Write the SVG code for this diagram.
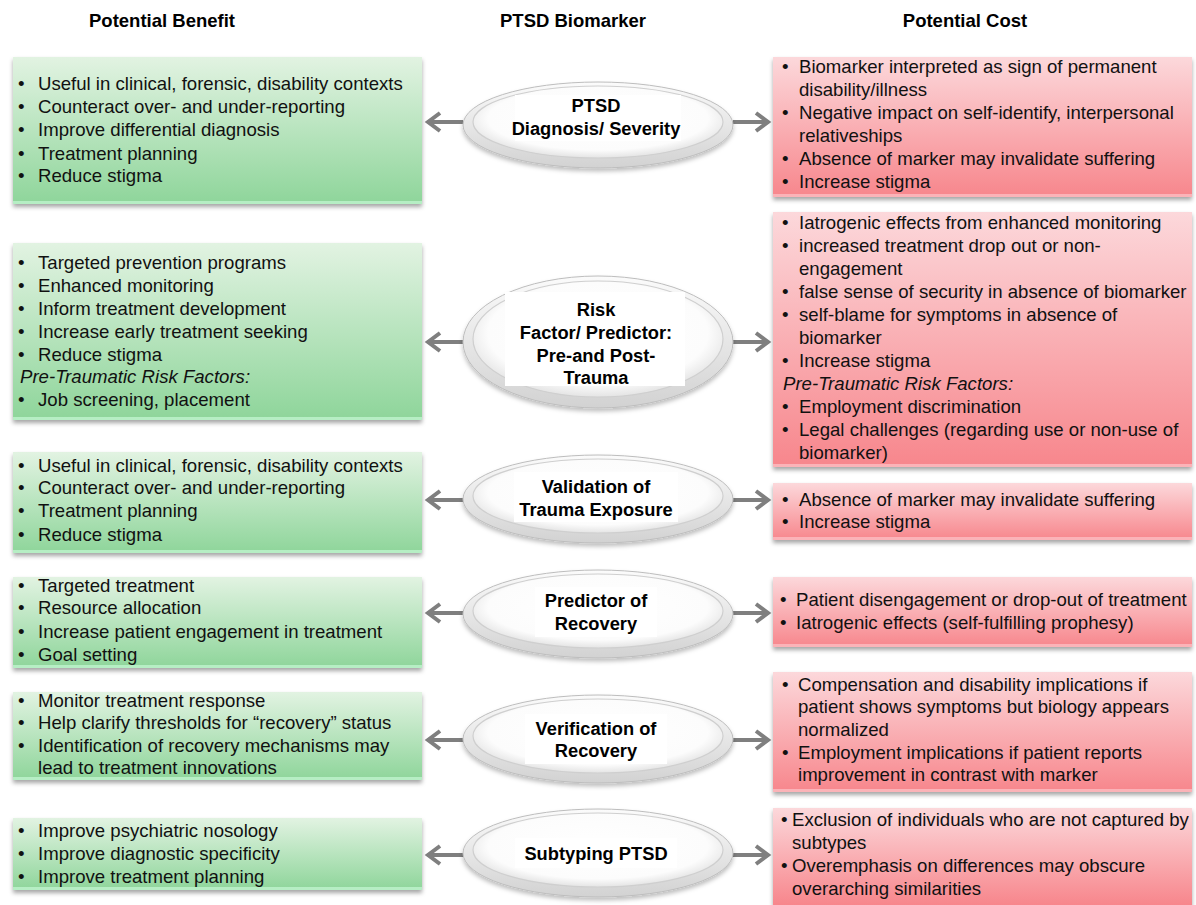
<svg xmlns="http://www.w3.org/2000/svg" width="1196" height="905" viewBox="0 0 1196 905">
<defs>
<linearGradient id="gGreen" x1="0" y1="0" x2="0" y2="1">
<stop offset="0" stop-color="#e2f3e2"/>
<stop offset="1" stop-color="#8ed59a"/>
</linearGradient>
<linearGradient id="gRed" x1="0" y1="0" x2="0" y2="1">
<stop offset="0" stop-color="#fcd8db"/>
<stop offset="1" stop-color="#f7868c"/>
</linearGradient>
<linearGradient id="gRing" x1="0" y1="0" x2="0" y2="1">
<stop offset="0" stop-color="#fbfbfb"/>
<stop offset="1" stop-color="#d2d2d2"/>
</linearGradient>
<radialGradient id="gInner" cx="0.5" cy="0.45" r="0.55">
<stop offset="0" stop-color="#ffffff"/>
<stop offset="0.8" stop-color="#fcfcfc"/>
<stop offset="1" stop-color="#e4e4e4"/>
</radialGradient>
<filter id="shadow" x="-5%" y="-10%" width="110%" height="130%">
<feDropShadow dx="0" dy="3" stdDeviation="2" flood-color="#000" flood-opacity="0.35"/>
</filter>
<filter id="eshadow" x="-10%" y="-20%" width="120%" height="150%">
<feDropShadow dx="0" dy="3" stdDeviation="2" flood-color="#000" flood-opacity="0.25"/>
</filter>
<marker id="chev" markerUnits="userSpaceOnUse" markerWidth="20" markerHeight="24" viewBox="-2 -2 20 24" refX="13" refY="10" orient="auto">
<path d="M1,1 L13,10 L1,19" fill="none" stroke="#7f7f7f" stroke-width="4"/>
</marker>
<style>
.hdr{font-family:"Liberation Sans",Arial,sans-serif;font-weight:bold;font-size:18.5px;fill:#000;text-anchor:middle}
.t{font-family:"Liberation Sans",Arial,sans-serif;font-size:18.6px;fill:#111}
.it{font-style:italic}
.bx-g{fill:url(#gGreen);filter:url(#shadow)}
.bx-r{fill:url(#gRed);filter:url(#shadow)}
.strip-g{fill:#b6eec4}
.strip-r{fill:#fbb3b8}
.ring{fill:url(#gRing);stroke:#bdbdbd;stroke-width:1;filter:url(#eshadow)}
.inner{fill:url(#gInner);stroke:#cfcfcf;stroke-width:1.2}
.lbl{font-family:"Liberation Sans",Arial,sans-serif;font-weight:bold;font-size:18.3px;fill:#000;text-anchor:middle}
.wb{fill:#ffffff}
.arr{stroke:#7f7f7f;stroke-width:4;fill:none;marker-end:url(#chev)}
</style>
</defs>
<rect width="1196" height="905" fill="#ffffff"/>

<g id="headers">
<text class="hdr" x="162" y="27">Potential Benefit</text>
<text class="hdr" x="573" y="27">PTSD Biomarker</text>
<text class="hdr" x="965" y="27">Potential Cost</text>
</g>

<g id="connectors">
<line class="arr" x1="463" y1="122" x2="428" y2="122"/>
<line class="arr" x1="733" y1="122" x2="768" y2="122"/>
<line class="arr" x1="463" y1="342" x2="428" y2="342"/>
<line class="arr" x1="733" y1="342" x2="768" y2="342"/>
<line class="arr" x1="463" y1="500" x2="428" y2="500"/>
<line class="arr" x1="733" y1="500" x2="768" y2="500"/>
<line class="arr" x1="463" y1="613" x2="428" y2="613"/>
<line class="arr" x1="733" y1="613" x2="768" y2="613"/>
<line class="arr" x1="463" y1="740" x2="428" y2="740"/>
<line class="arr" x1="733" y1="740" x2="768" y2="740"/>
<line class="arr" x1="463" y1="855" x2="428" y2="855"/>
<line class="arr" x1="733" y1="855" x2="768" y2="855"/>
</g>

<!-- Row 1 -->
<g id="benefit-1">
<rect class="bx-g" x="13" y="57" width="409" height="147"/>
<rect class="strip-g" x="13" y="201" width="409" height="3"/>
<text class="t" x="18" y="90">•</text><text class="t" x="38" y="90">Useful in clinical, forensic, disability contexts</text>
<text class="t" x="18" y="113">•</text><text class="t" x="38" y="113">Counteract over- and under-reporting</text>
<text class="t" x="18" y="136">•</text><text class="t" x="38" y="136">Improve differential diagnosis</text>
<text class="t" x="18" y="160">•</text><text class="t" x="38" y="160">Treatment planning</text>
<text class="t" x="18" y="182">•</text><text class="t" x="38" y="182">Reduce stigma</text>
</g>
<g id="biomarker-1">
<ellipse class="ring" cx="598" cy="125" rx="135" ry="43"/>
<ellipse class="inner" cx="598" cy="122" rx="125" ry="36"/>
<rect class="wb" x="515" y="95" width="166" height="46"/>
<text class="lbl" x="596" y="112">PTSD</text>
<text class="lbl" x="596" y="135">Diagnosis/ Severity</text>
</g>
<g id="cost-1">
<rect class="bx-r" x="773" y="57" width="419" height="140"/>
<rect class="strip-r" x="773" y="194" width="419" height="3"/>
<text class="t" x="782" y="73">•</text><text class="t" x="799" y="73">Biomarker interpreted as sign of permanent</text>
<text class="t" x="799" y="96">disability/illness</text>
<text class="t" x="782" y="119">•</text><text class="t" x="799" y="119">Negative impact on self-identify, interpersonal</text>
<text class="t" x="799" y="142">relativeships</text>
<text class="t" x="782" y="165">•</text><text class="t" x="799" y="165">Absence of marker may invalidate suffering</text>
<text class="t" x="782" y="188">•</text><text class="t" x="799" y="188">Increase stigma</text>
</g>

<!-- Row 2 -->
<g id="benefit-2">
<rect class="bx-g" x="13" y="243" width="409" height="177"/>
<rect class="strip-g" x="13" y="417" width="409" height="3"/>
<text class="t" x="18" y="269">•</text><text class="t" x="38" y="269">Targeted prevention programs</text>
<text class="t" x="18" y="292">•</text><text class="t" x="38" y="292">Enhanced monitoring</text>
<text class="t" x="18" y="315">•</text><text class="t" x="38" y="315">Inform treatment development</text>
<text class="t" x="18" y="338">•</text><text class="t" x="38" y="338">Increase early treatment seeking</text>
<text class="t" x="18" y="361">•</text><text class="t" x="38" y="361">Reduce stigma</text>
<text class="t it" x="20" y="383">Pre-Traumatic Risk Factors:</text>
<text class="t" x="18" y="406">•</text><text class="t" x="38" y="406">Job screening, placement</text>
</g>
<g id="biomarker-2">
<ellipse class="ring" cx="598" cy="342" rx="135" ry="66"/>
<ellipse class="inner" cx="598" cy="339" rx="125" ry="58"/>
<rect class="wb" x="505" y="292" width="180" height="94"/>
<text class="lbl" x="596" y="316">Risk</text>
<text class="lbl" x="596" y="339">Factor/ Predictor:</text>
<text class="lbl" x="596" y="362">Pre-and Post-</text>
<text class="lbl" x="596" y="384">Trauma</text>
</g>
<g id="cost-2">
<rect class="bx-r" x="773" y="212" width="419" height="255"/>
<rect class="strip-r" x="773" y="464" width="419" height="3"/>
<text class="t" x="782" y="229">•</text><text class="t" x="799" y="229">Iatrogenic effects from enhanced monitoring</text>
<text class="t" x="782" y="252">•</text><text class="t" x="799" y="252">increased treatment drop out or non-</text>
<text class="t" x="799" y="275">engagement</text>
<text class="t" x="782" y="298">•</text><text class="t" x="799" y="298">false sense of security in absence of biomarker</text>
<text class="t" x="782" y="321">•</text><text class="t" x="799" y="321">self-blame for symptoms in absence of</text>
<text class="t" x="799" y="344">biomarker</text>
<text class="t" x="782" y="367">•</text><text class="t" x="799" y="367">Increase stigma</text>
<text class="t it" x="783" y="390">Pre-Traumatic Risk Factors:</text>
<text class="t" x="782" y="413">•</text><text class="t" x="799" y="413">Employment discrimination</text>
<text class="t" x="782" y="436">•</text><text class="t" x="799" y="436">Legal challenges (regarding use or non-use of</text>
<text class="t" x="799" y="459">biomarker)</text>
</g>

<!-- Row 3 -->
<g id="benefit-3">
<rect class="bx-g" x="13" y="452" width="409" height="101"/>
<rect class="strip-g" x="13" y="550" width="409" height="3"/>
<text class="t" x="18" y="472">•</text><text class="t" x="38" y="472">Useful in clinical, forensic, disability contexts</text>
<text class="t" x="18" y="494">•</text><text class="t" x="38" y="494">Counteract over- and under-reporting</text>
<text class="t" x="18" y="517">•</text><text class="t" x="38" y="517">Treatment planning</text>
<text class="t" x="18" y="541">•</text><text class="t" x="38" y="541">Reduce stigma</text>
</g>
<g id="biomarker-3">
<ellipse class="ring" cx="598" cy="499" rx="135" ry="44"/>
<ellipse class="inner" cx="598" cy="496" rx="125" ry="37"/>
<rect class="wb" x="514" y="472" width="164" height="50"/>
<text class="lbl" x="596" y="493">Validation of</text>
<text class="lbl" x="596" y="516">Trauma Exposure</text>
</g>
<g id="cost-3">
<rect class="bx-r" x="773" y="483" width="419" height="57"/>
<rect class="strip-r" x="773" y="537" width="419" height="3"/>
<text class="t" x="782" y="506">•</text><text class="t" x="799" y="506">Absence of marker may invalidate suffering</text>
<text class="t" x="782" y="528">•</text><text class="t" x="799" y="528">Increase stigma</text>
</g>

<!-- Row 4 -->
<g id="benefit-4">
<rect class="bx-g" x="13" y="577" width="409" height="91"/>
<rect class="strip-g" x="13" y="665" width="409" height="3"/>
<text class="t" x="18" y="592">•</text><text class="t" x="38" y="592">Targeted treatment</text>
<text class="t" x="18" y="614">•</text><text class="t" x="38" y="614">Resource allocation</text>
<text class="t" x="18" y="638">•</text><text class="t" x="38" y="638">Increase patient engagement in treatment</text>
<text class="t" x="18" y="661">•</text><text class="t" x="38" y="661">Goal setting</text>
</g>
<g id="biomarker-4">
<ellipse class="ring" cx="598" cy="614" rx="135" ry="44"/>
<ellipse class="inner" cx="598" cy="611" rx="125" ry="37"/>
<rect class="wb" x="535" y="587" width="122" height="50"/>
<text class="lbl" x="596" y="607">Predictor of</text>
<text class="lbl" x="596" y="630">Recovery</text>
</g>
<g id="cost-4">
<rect class="bx-r" x="773" y="577" width="419" height="70"/>
<rect class="strip-r" x="773" y="644" width="419" height="3"/>
<text class="t" x="780" y="606">•</text><text class="t" x="796" y="606">Patient disengagement or drop-out of treatment</text>
<text class="t" x="780" y="629">•</text><text class="t" x="796" y="629">Iatrogenic effects (self-fulfilling prophesy)</text>
</g>

<!-- Row 5 -->
<g id="benefit-5">
<rect class="bx-g" x="13" y="692" width="409" height="88"/>
<rect class="strip-g" x="13" y="777" width="409" height="3"/>
<text class="t" x="18" y="707">•</text><text class="t" x="38" y="707">Monitor treatment response</text>
<text class="t" x="18" y="729">•</text><text class="t" x="38" y="729">Help clarify thresholds for “recovery” status</text>
<text class="t" x="18" y="752">•</text><text class="t" x="38" y="752">Identification of recovery mechanisms may</text>
<text class="t" x="38" y="774">lead to treatment innovations</text>
</g>
<g id="biomarker-5">
<ellipse class="ring" cx="598" cy="739" rx="135" ry="44"/>
<ellipse class="inner" cx="598" cy="736" rx="125" ry="37"/>
<rect class="wb" x="525" y="714" width="142" height="50"/>
<text class="lbl" x="596" y="735">Verification of</text>
<text class="lbl" x="596" y="757">Recovery</text>
</g>
<g id="cost-5">
<rect class="bx-r" x="773" y="672" width="419" height="120"/>
<rect class="strip-r" x="773" y="789" width="419" height="3"/>
<text class="t" x="782" y="691">•</text><text class="t" x="798" y="691">Compensation and disability implications if</text>
<text class="t" x="798" y="713">patient shows symptoms but biology appears</text>
<text class="t" x="798" y="736">normalized</text>
<text class="t" x="782" y="759">•</text><text class="t" x="798" y="759">Employment implications if patient reports</text>
<text class="t" x="798" y="781">improvement in contrast with marker</text>
</g>

<!-- Row 6 -->
<g id="benefit-6">
<rect class="bx-g" x="13" y="818" width="409" height="72"/>
<rect class="strip-g" x="13" y="887" width="409" height="3"/>
<text class="t" x="18" y="837">•</text><text class="t" x="38" y="837">Improve psychiatric nosology</text>
<text class="t" x="18" y="860">•</text><text class="t" x="38" y="860">Improve diagnostic specificity</text>
<text class="t" x="18" y="883">•</text><text class="t" x="38" y="883">Improve treatment planning</text>
</g>
<g id="biomarker-6">
<ellipse class="ring" cx="598" cy="853" rx="135" ry="44"/>
<ellipse class="inner" cx="598" cy="850" rx="125" ry="37"/>
<rect class="wb" x="515" y="838" width="162" height="30"/>
<text class="lbl" x="596" y="860">Subtyping PTSD</text>
</g>
<g id="cost-6">
<rect class="bx-r" x="773" y="808" width="419" height="97"/>
<text class="t" x="781" y="826">•</text><text class="t" x="792" y="826">Exclusion of individuals who are not captured by</text>
<text class="t" x="792" y="849">subtypes</text>
<text class="t" x="781" y="872">•</text><text class="t" x="792" y="872">Overemphasis on differences may obscure</text>
<text class="t" x="792" y="895">overarching similarities</text>
</g>
</svg>
